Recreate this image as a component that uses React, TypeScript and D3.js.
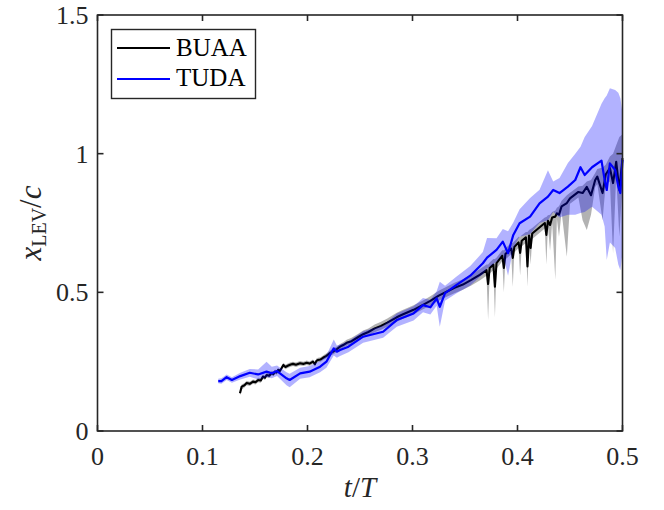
import React from 'react';
import * as d3 from 'd3';

type Row = [number, number, number, number]; // t, mean, lower, upper

// BUAA: t/T, x_LEV/c, band low, band high
const buaa: Row[] = [
  [0.1357, 0.136, 0.128, 0.144], [0.1373, 0.160, 0.150, 0.168], [0.1400, 0.165, 0.157, 0.173],
  [0.1421, 0.173, 0.165, 0.181], [0.1450, 0.170, 0.162, 0.178], [0.1481, 0.178, 0.170, 0.186],
  [0.1505, 0.176, 0.168, 0.184], [0.1530, 0.184, 0.176, 0.192], [0.1555, 0.182, 0.174, 0.190],
  [0.1576, 0.196, 0.188, 0.204], [0.1595, 0.192, 0.184, 0.200], [0.1611, 0.202, 0.194, 0.210],
  [0.1635, 0.199, 0.191, 0.207], [0.1659, 0.209, 0.201, 0.217], [0.1675, 0.205, 0.197, 0.213],
  [0.1690, 0.214, 0.206, 0.222], [0.1705, 0.211, 0.203, 0.219], [0.1719, 0.220, 0.212, 0.228],
  [0.1735, 0.216, 0.208, 0.224], [0.1754, 0.227, 0.219, 0.235], [0.1770, 0.238, 0.230, 0.246],
  [0.1790, 0.231, 0.223, 0.239], [0.1817, 0.236, 0.228, 0.244], [0.1840, 0.240, 0.232, 0.248],
  [0.1862, 0.242, 0.234, 0.250], [0.1890, 0.239, 0.231, 0.247], [0.1929, 0.244, 0.236, 0.252],
  [0.1960, 0.242, 0.234, 0.250], [0.1992, 0.246, 0.238, 0.254], [0.2020, 0.243, 0.235, 0.251],
  [0.2052, 0.250, 0.242, 0.258], [0.2071, 0.241, 0.233, 0.249], [0.2085, 0.253, 0.245, 0.261],
  [0.2100, 0.256, 0.248, 0.264], [0.2125, 0.258, 0.250, 0.266], [0.2148, 0.264, 0.256, 0.272],
  [0.2180, 0.271, 0.262, 0.280], [0.2214, 0.281, 0.272, 0.290], [0.2243, 0.286, 0.276, 0.296],
  [0.2275, 0.294, 0.284, 0.304], [0.2310, 0.304, 0.294, 0.314], [0.2340, 0.310, 0.300, 0.320],
  [0.2373, 0.318, 0.307, 0.329], [0.2420, 0.324, 0.312, 0.336], [0.2480, 0.338, 0.326, 0.350],
  [0.2530, 0.349, 0.336, 0.362], [0.2580, 0.357, 0.344, 0.370], [0.2640, 0.370, 0.356, 0.384],
  [0.2700, 0.379, 0.365, 0.394], [0.2760, 0.391, 0.376, 0.406], [0.2850, 0.410, 0.394, 0.426],
  [0.2900, 0.419, 0.403, 0.435], [0.3010, 0.437, 0.421, 0.453], [0.3100, 0.455, 0.439, 0.471],
  [0.3170, 0.469, 0.452, 0.486], [0.3250, 0.488, 0.470, 0.506], [0.3320, 0.501, 0.483, 0.519],
  [0.3400, 0.516, 0.497, 0.535], [0.3480, 0.528, 0.509, 0.547], [0.3560, 0.545, 0.525, 0.565],
  [0.3640, 0.563, 0.543, 0.583], [0.3705, 0.580, 0.560, 0.600], [0.3720, 0.530, 0.400, 0.600],
  [0.3735, 0.588, 0.568, 0.608], [0.3770, 0.600, 0.580, 0.620], [0.3785, 0.520, 0.410, 0.620],
  [0.3800, 0.605, 0.585, 0.625], [0.3855, 0.632, 0.612, 0.652], [0.3870, 0.588, 0.500, 0.652],
  [0.3885, 0.638, 0.618, 0.658], [0.3940, 0.658, 0.638, 0.678], [0.3955, 0.624, 0.520, 0.678],
  [0.3970, 0.664, 0.644, 0.684], [0.4010, 0.680, 0.660, 0.700], [0.4025, 0.642, 0.560, 0.700],
  [0.4040, 0.686, 0.666, 0.706], [0.4080, 0.698, 0.678, 0.718], [0.4095, 0.593, 0.520, 0.718],
  [0.4110, 0.705, 0.685, 0.725], [0.4125, 0.660, 0.600, 0.728], [0.4140, 0.712, 0.692, 0.732],
  [0.4180, 0.725, 0.705, 0.745], [0.4260, 0.750, 0.730, 0.770], [0.4275, 0.707, 0.600, 0.772],
  [0.4290, 0.758, 0.738, 0.778], [0.4310, 0.743, 0.650, 0.780], [0.4330, 0.770, 0.750, 0.790],
  [0.4360, 0.773, 0.545, 0.795], [0.4375, 0.785, 0.765, 0.805], [0.4395, 0.780, 0.700, 0.810],
  [0.4420, 0.810, 0.790, 0.830], [0.4470, 0.822, 0.628, 0.850], [0.4500, 0.839, 0.819, 0.859],
  [0.4580, 0.862, 0.842, 0.882], [0.4620, 0.858, 0.760, 0.884], [0.4660, 0.880, 0.725, 0.900],
  [0.4700, 0.850, 0.780, 0.905], [0.4740, 0.905, 0.880, 0.930], [0.4760, 0.917, 0.890, 0.945],
  [0.4810, 0.858, 0.760, 0.950], [0.4840, 0.925, 0.890, 0.960], [0.4880, 0.948, 0.900, 0.990],
  [0.4910, 0.894, 0.640, 1.000], [0.4940, 0.971, 0.920, 1.030], [0.4970, 0.869, 0.700, 1.060],
  [0.5000, 0.984, 0.900, 1.070],
];

// TUDA: t/T, x_LEV/c, band low, band high
const tuda: Row[] = [
  [0.115, 0.180, 0.172, 0.188], [0.118, 0.180, 0.170, 0.190], [0.123, 0.194, 0.184, 0.204],
  [0.128, 0.184, 0.174, 0.194], [0.136, 0.198, 0.186, 0.210], [0.145, 0.210, 0.196, 0.224],
  [0.153, 0.204, 0.186, 0.222], [0.161, 0.214, 0.195, 0.250], [0.166, 0.208, 0.190, 0.232],
  [0.171, 0.216, 0.198, 0.236], [0.180, 0.190, 0.165, 0.212], [0.183, 0.184, 0.158, 0.206],
  [0.193, 0.208, 0.188, 0.228], [0.202, 0.214, 0.194, 0.234], [0.212, 0.232, 0.212, 0.252],
  [0.218, 0.250, 0.228, 0.272], [0.225, 0.298, 0.272, 0.330], [0.228, 0.286, 0.264, 0.308],
  [0.231, 0.292, 0.270, 0.312], [0.239, 0.304, 0.284, 0.324], [0.253, 0.340, 0.318, 0.360],
  [0.272, 0.358, 0.336, 0.380], [0.285, 0.400, 0.376, 0.424], [0.301, 0.424, 0.398, 0.450],
  [0.310, 0.454, 0.428, 0.480], [0.317, 0.446, 0.420, 0.472], [0.323, 0.478, 0.452, 0.504],
  [0.326, 0.448, 0.376, 0.538], [0.331, 0.497, 0.470, 0.524], [0.342, 0.527, 0.497, 0.557],
  [0.355, 0.560, 0.525, 0.595], [0.367, 0.605, 0.565, 0.645], [0.371, 0.625, 0.585, 0.696],
  [0.380, 0.653, 0.610, 0.695], [0.386, 0.683, 0.638, 0.728], [0.391, 0.641, 0.560, 0.720],
  [0.396, 0.707, 0.660, 0.752], [0.402, 0.749, 0.700, 0.800], [0.412, 0.773, 0.710, 0.840],
  [0.421, 0.821, 0.750, 0.870], [0.429, 0.845, 0.760, 0.940], [0.434, 0.869, 0.790, 0.900],
  [0.440, 0.858, 0.770, 0.912], [0.448, 0.881, 0.780, 0.966], [0.455, 0.905, 0.780, 1.000],
  [0.460, 0.951, 0.786, 1.025], [0.464, 0.923, 0.790, 1.060], [0.471, 0.951, 0.809, 1.100],
  [0.480, 0.975, 0.780, 1.180], [0.483, 0.905, 0.737, 1.200], [0.485, 0.869, 0.617, 1.210],
  [0.488, 0.965, 0.680, 1.236], [0.493, 0.941, 0.660, 1.230], [0.496, 0.881, 0.600, 1.220],
  [0.498, 0.858, 0.580, 1.200], [0.500, 0.977, 0.642, 1.147],
];

const xTicks = [0, 0.1, 0.2, 0.3, 0.4, 0.5];
const xTickLabels = ['0', '0.1', '0.2', '0.3', '0.4', '0.5'];
const yTicks = [0, 0.5, 1, 1.5];
const yTickLabels = ['0', '0.5', '1', '1.5'];
const legendNames = ['BUAA', 'TUDA'];

const W = 664;
const H = 510;
const left = 97.5, right = 622.5, top = 15, bottom = 431;
const font = '"Liberation Serif", "DejaVu Serif", serif';
const axisColor = '#262626';

export default function App() {
  const x = d3.scaleLinear().domain([0, 0.5]).range([left, right]);
  const y = d3.scaleLinear().domain([0, 1.5]).range([bottom, top]);

  const line = d3.line<Row>().x(d => x(d[0])).y(d => y(d[1]));
  const band = d3.area<Row>().x(d => x(d[0])).y0(d => y(d[2])).y1(d => y(d[3]));

  const tickLen = 6;

  return (
    <svg width={W} height={H} style={{ position: 'absolute', left: 0, top: 0, background: '#fff' }}>
      <rect x={0} y={0} width={W} height={H} fill="#fff" />

      {/* BUAA */}
      <path d={band(buaa) ?? ''} fill="#000" fillOpacity={0.3} stroke="none" />
      <path d={line(buaa) ?? ''} fill="none" stroke="#000" strokeWidth={2.1} strokeLinejoin="round" />

      {/* TUDA */}
      <path d={band(tuda) ?? ''} fill="#0000ff" fillOpacity={0.3} stroke="none" />
      <path d={line(tuda) ?? ''} fill="none" stroke="#0000ff" strokeWidth={2.2} strokeLinejoin="round" />

      {/* box */}
      <rect x={left} y={top} width={right - left} height={bottom - top} fill="none" stroke={axisColor} strokeWidth={1.6} />

      {xTicks.map((t, i) => (
        <g key={'xt' + i}>
          <line x1={x(t)} x2={x(t)} y1={bottom} y2={bottom - tickLen} stroke={axisColor} strokeWidth={1.6} />
          <line x1={x(t)} x2={x(t)} y1={top} y2={top + tickLen} stroke={axisColor} strokeWidth={1.6} />
          <text x={x(t)} y={bottom + 34} textAnchor="middle" fontFamily={font} fontSize={26} fill={axisColor}>
            {xTickLabels[i]}
          </text>
        </g>
      ))}
      {yTicks.map((t, i) => (
        <g key={'yt' + i}>
          <line x1={left} x2={left + tickLen} y1={y(t)} y2={y(t)} stroke={axisColor} strokeWidth={1.6} />
          <line x1={right} x2={right - tickLen} y1={y(t)} y2={y(t)} stroke={axisColor} strokeWidth={1.6} />
          <text x={left - 9} y={y(t)} dy="0.34em" textAnchor="end" fontFamily={font} fontSize={26} fill={axisColor}>
            {yTickLabels[i]}
          </text>
        </g>
      ))}

      {/* axis labels */}
      <text x={(left + right) / 2} y={497} textAnchor="middle" fontFamily={font} fontSize={29} fill={axisColor}>
        <tspan fontStyle="italic">t</tspan>
        <tspan>/</tspan>
        <tspan fontStyle="italic">T</tspan>
      </text>
      <text transform={`translate(41,${(top + bottom) / 2}) rotate(-90)`} textAnchor="middle" fontFamily={font} fontSize={31} fill={axisColor}>
        <tspan fontStyle="italic">x</tspan>
        <tspan fontSize={20} dy={5}>LEV</tspan>
        <tspan dy={-5}>/</tspan>
        <tspan fontStyle="italic">c</tspan>
      </text>

      {/* legend */}
      <rect x={111.5} y={29.5} width={144} height={69} fill="#fff" stroke={axisColor} strokeWidth={1.4} />
      {legendNames.map((name, i) => (
        <g key={name}>
          <line x1={117} x2={170} y1={48 + i * 31} y2={48 + i * 31} stroke={i === 0 ? '#000' : '#0000ff'} strokeWidth={1.8} />
          <text x={176} y={55.5 + i * 30} fontFamily={font} fontSize={25} fill="#000">
            {name}
          </text>
        </g>
      ))}
    </svg>
  );
}
